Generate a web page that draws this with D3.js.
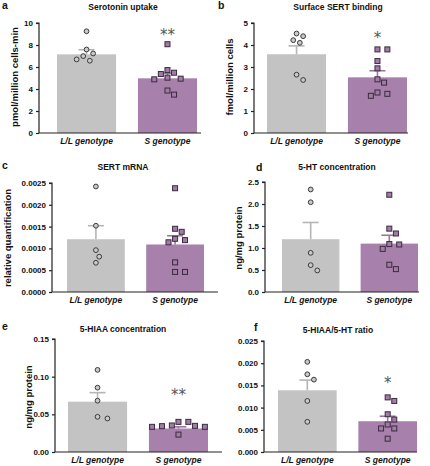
<!DOCTYPE html>
<html><head><meta charset="utf-8">
<script src="https://cdn.jsdelivr.net/npm/d3@7"></script>
<style>
body{margin:0;background:#fff;}
svg{display:block;font-family:"Liberation Sans",Arial,sans-serif;}
</style></head><body>
<svg id="c" width="430" height="466"></svg>
<script>
// ---------- data ----------
const groups = ["L/L genotype", "S genotype"];

const uptakeMean = [7.15, 4.97];
const uptakeSem = [0.42, 0.45];
const uptakeLL = [9.25, 7.59, 7.23, 6.99, 6.57, 6.69];
const uptakeS = [8.07, 5.36, 5.72, 5.48, 4.94, 4.88, 5.03, 3.86, 3.49];
const uptakeTicks = [0, 2, 4, 6, 8, 10];

const bindingMean = [3.58, 2.53];
const bindingSem = [0.38, 0.30];
const bindingLL = [4.52, 4.40, 4.22, 4.10, 2.65, 2.41];
const bindingS = [3.80, 3.80, 3.27, 2.94, 2.44, 2.29, 1.84, 1.69, 1.78];
const bindingTicks = [0, 1, 2, 3, 4, 5];

const mrnaMean = [0.00121, 0.00109];
const mrnaSem = [0.00031, 0.00020];
const mrnaLL = [0.00242, 0.00152, 0.00096, 0.00081, 0.00067];
const mrnaS = [0.00238, 0.00145, 0.00138, 0.00122, 0.00114, 0.00119, 0.00068, 0.00046, 0.00046];
const mrnaTicks = [0, 0.0005, 0.0010, 0.0015, 0.0020, 0.0025];

const htMean = [1.20, 1.10];
const htSem = [0.38, 0.19];
const htLL = [2.33, 2.04, 0.89, 0.61, 0.49];
const htS = [2.21, 1.44, 1.33, 1.08, 1.09, 0.98, 0.62, 0.52];
const htTicks = [0, 0.5, 1.0, 1.5, 2.0, 2.5];

const hiaaMean = [0.0668, 0.0312];
const hiaaSem = [0.0120, 0.0022];
const hiaaLL = [0.109, 0.0854, 0.0681, 0.0467, 0.0445];
const hiaaS = [0.040, 0.0347, 0.0334, 0.0334, 0.0343, 0.0352, 0.040, 0.0231];
const hiaaTicks = [0, 0.05, 0.10, 0.15];

const ratioMean = [0.0139, 0.00693];
const ratioSem = [0.0023, 0.00113];
const ratioLL = [0.0203, 0.0175, 0.0163, 0.0115, 0.0068];
const ratioS = [0.0123, 0.0115, 0.0085, 0.0073, 0.0062, 0.0053, 0.0053, 0.0030];
const ratioTicks = [0, 0.005, 0.010, 0.015, 0.020, 0.025];

const titles = ["Serotonin uptake", "Surface SERT binding", "SERT mRNA", "5-HT concentration", "5-HIAA concentration", "5-HIAA/5-HT ratio"];
const letters = ["a", "b", "c", "d", "e", "f"];
const yLabels = ["pmol/million cells-min", "fmol/million cells", "relative quantification", "ng/mg protein", "ng/mg protein", ""];
const stars = ["**", "*", "", "", "**", "*"];
const tickFormats = [".0f", ".0f", ".4f", ".1f", ".2f", ".3f"];

// ---------- layout ----------
const layout = [
  {ax: 39, xEnd: 201, bx: [57, 197], top: 23, bot: 133, tx: 123, ty: 10, lx: 2, ly: 9, ylx: 15, yly: 77, starY: 34},
  {ax: 254, xEnd: 408, bx: [267, 407], top: 23, bot: 133, tx: 338, ty: 10, lx: 218, ly: 9, ylx: 230, yly: 77, starY: 37},
  {ax: 52, xEnd: 218, bx: [67, 204], top: 183, bot: 292, tx: 123, ty: 170, lx: 2, ly: 169, ylx: 8, yly: 238},
  {ax: 265, xEnd: 419, bx: [282, 418], top: 182, bot: 292, tx: 337, ty: 170, lx: 256, ly: 171, ylx: 239, yly: 238},
  {ax: 55, xEnd: 222, bx: [68, 208], top: 339, bot: 452, tx: 123, ty: 332, lx: 2, ly: 330, ylx: 29, yly: 397, starY: 394},
  {ax: 264, xEnd: 417, bx: [278, 417], top: 341, bot: 452, tx: 338, ty: 333, lx: 254, ly: 331, ylx: 0, yly: 0, starY: 382}
];

const panels = [
  {mean: uptakeMean, sem: uptakeSem, pts: [uptakeLL, uptakeS], ticks: uptakeTicks},
  {mean: bindingMean, sem: bindingSem, pts: [bindingLL, bindingS], ticks: bindingTicks},
  {mean: mrnaMean, sem: mrnaSem, pts: [mrnaLL, mrnaS], ticks: mrnaTicks},
  {mean: htMean, sem: htSem, pts: [htLL, htS], ticks: htTicks},
  {mean: hiaaMean, sem: hiaaSem, pts: [hiaaLL, hiaaS], ticks: hiaaTicks},
  {mean: ratioMean, sem: ratioSem, pts: [ratioLL, ratioS], ticks: ratioTicks}
];

const barColors = ["#c3c3c3", "#a780ab"];
const semColors = ["#b5b5b5", "#9c76a0"];
const ptFill = ["#c9c9c9", "#a27ca6"];
const ptStroke = ["#3a3a3a", "#3b2a3f"];

const svg = d3.select("#c");

// simple deterministic beeswarm: shift points sideways when they collide
function swarm(vals, y, cx, r) {
  const order = vals.map((v, i) => i).sort((a, b) => vals[b] - vals[a]);
  const placed = [];
  const out = new Array(vals.length);
  order.forEach(i => {
    const py = y(vals[i]);
    let k = 0, px = cx;
    const cand = [0];
    for (let s = 1; s < 12; s++) { cand.push(s * r); cand.push(-s * r); }
    for (k = 0; k < cand.length; k++) {
      px = cx + cand[k];
      if (placed.every(p => Math.hypot(p.x - px, p.y - py) >= r * 2.1)) break;
    }
    placed.push({x: px, y: py});
    out[i] = {x: px, y: py};
  });
  return out;
}

panels.forEach((p, pi) => {
  const L = layout[pi];
  const g = svg.append("g");
  const ymax = p.ticks[p.ticks.length - 1];
  const y = d3.scaleLinear().domain([0, ymax]).range([L.bot, L.top]);
  const x = d3.scaleBand().domain(groups).range(L.bx).paddingInner(0.27).paddingOuter(0);

  // bars
  g.selectAll("rect.bar").data(groups).join("rect")
    .attr("x", d => x(d)).attr("width", x.bandwidth())
    .attr("y", (d, i) => y(p.mean[i])).attr("height", (d, i) => L.bot - y(p.mean[i]))
    .attr("fill", (d, i) => barColors[i]);

  // SEM
  groups.forEach((gname, i) => {
    const cx = x(gname) + x.bandwidth() / 2;
    g.append("line").attr("x1", cx).attr("x2", cx)
      .attr("y1", y(p.mean[i])).attr("y2", y(p.mean[i] + p.sem[i]))
      .attr("stroke", semColors[i]).attr("stroke-width", 1.6);
    g.append("line").attr("x1", cx - 8).attr("x2", cx + 8)
      .attr("y1", y(p.mean[i] + p.sem[i])).attr("y2", y(p.mean[i] + p.sem[i]))
      .attr("stroke", semColors[i]).attr("stroke-width", 1.6);
  });

  // points
  groups.forEach((gname, i) => {
    const cx = x(gname) + x.bandwidth() / 2;
    const pos = swarm(p.pts[i], y, cx, 3.3);
    if (i === 0) {
      g.selectAll("circle.pt").data(pos).join("circle")
        .attr("cx", d => d.x).attr("cy", d => d.y).attr("r", 2.4)
        .attr("fill", ptFill[0]).attr("stroke", ptStroke[0]).attr("stroke-width", 1);
    } else {
      g.selectAll("rect.pt").data(pos).join("rect").attr("class", "pt")
        .attr("x", d => d.x - 2.5).attr("y", d => d.y - 2.5).attr("width", 5).attr("height", 5)
        .attr("fill", ptFill[1]).attr("stroke", ptStroke[1]).attr("stroke-width", 1);
    }
  });

  // y axis
  const yAxis = d3.axisLeft(y).tickValues(p.ticks).tickSize(3).tickPadding(3)
    .tickFormat(d3.format(tickFormats[pi]));
  const ya = g.append("g").attr("transform", `translate(${L.ax},0)`).call(yAxis);
  ya.select(".domain").attr("stroke", "#222").attr("stroke-width", 1.2).attr("d", `M-3,${L.top}H0V${L.bot}`);
  ya.selectAll(".tick line").attr("stroke", "#222").attr("stroke-width", 1.2);
  ya.selectAll(".tick text").attr("font-size", 8).attr("font-weight", "bold").attr("fill", "#111")
    .attr("font-family", "'Liberation Sans',Arial,sans-serif");

  // x axis
  g.append("line").attr("x1", L.ax).attr("x2", L.xEnd).attr("y1", L.bot).attr("y2", L.bot)
    .attr("stroke", "#222").attr("stroke-width", 1.2);
  g.selectAll("text.xl").data(groups).join("text")
    .attr("x", d => x(d) + x.bandwidth() / 2).attr("y", L.bot + 11)
    .attr("text-anchor", "middle").attr("font-size", 8.5).attr("font-weight", "bold")
    .attr("font-style", "italic").attr("fill", "#111").text(d => d);

  // title
  g.append("text").attr("x", L.tx).attr("y", L.ty).attr("text-anchor", "middle")
    .attr("font-size", 8.5).attr("font-weight", "bold").attr("fill", "#111").text(titles[pi]);
  // letter
  g.append("text").attr("x", L.lx).attr("y", L.ly).attr("font-size", 10.5)
    .attr("font-weight", "bold").attr("fill", "#111").text(letters[pi]);
  // y label
  if (yLabels[pi]) {
    g.append("text").attr("transform", `translate(${L.ylx},${L.yly}) rotate(-90)`)
      .attr("text-anchor", "middle").attr("dy", "0.35em").attr("font-size", 9.5)
      .attr("font-weight", "bold").attr("fill", "#111").text(yLabels[pi]);
  }
  // significance
  if (stars[pi]) {
    g.append("text").attr("x", x(groups[1]) + x.bandwidth() / 2).attr("y", L.starY + 6)
      .attr("text-anchor", "middle").attr("font-size", 15).attr("fill", "#555")
      .attr("font-family", "'DejaVu Sans',sans-serif").text(stars[pi]);
  }
});
</script>
</body></html>
